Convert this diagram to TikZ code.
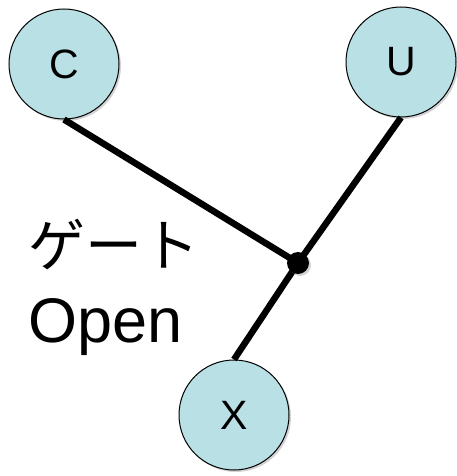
\documentclass[tikz,border=0pt]{standalone}
\usepackage{fontspec}
\setmainfont{Liberation Sans}
\newfontfamily\jpfont{Noto Sans CJK JP}
\usetikzlibrary{shadows}
\definecolor{nodefill}{RGB}{185,224,229}
\tikzset{
  var/.style={circle, draw=black, line width=1pt, fill=nodefill, minimum size=110pt, inner sep=0pt,
    font=\fontsize{41}{41}\selectfont,
    drop shadow={opacity=0.35, shadow xshift=2pt, shadow yshift=-2pt}},
  edge/.style={line width=6.5pt},
  junction/.style={circle, fill=black, minimum size=22pt, inner sep=0pt,
    drop shadow={opacity=0.35, shadow xshift=2pt, shadow yshift=-2pt}},
  lbl/.style={anchor=base west, inner sep=0pt, font=\fontsize{63}{63}\selectfont}
}
\begin{document}
\begin{tikzpicture}[x=1pt, y=-1pt]
\useasboundingbox (0,0) rectangle (457,476);
\node[var] (C) at (64,64) {C};
\node[var] (U) at (401,62) {U};
\node[var] (X) at (234,415) {X};
\coordinate (J) at (298,263);
\draw[edge] (C.south) -- (J);
\draw[edge] (U.south) -- (J);
\draw[edge] (J) -- (X.north);
\node[junction] (Jd) at (J) {};
\node[lbl, font=\fontsize{57}{57}\selectfont] (t1) at (28,266) {\jpfont ゲート};
\node[lbl] (t2) at (28,342) {Open};
\end{tikzpicture}
\end{document}
